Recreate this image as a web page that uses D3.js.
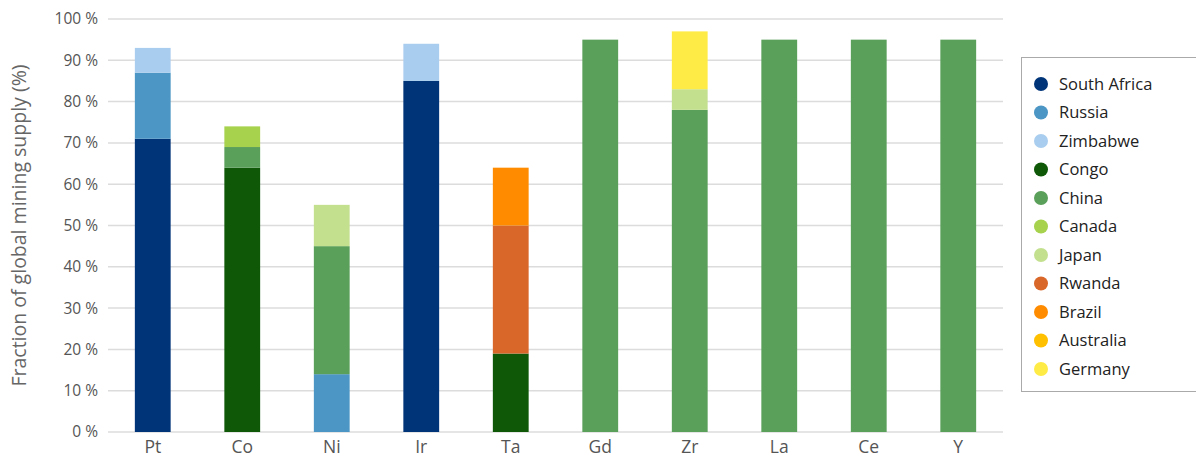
<!DOCTYPE html>
<html><head><meta charset="utf-8">
<script src="https://cdn.jsdelivr.net/npm/d3@7"></script>
<style>body{margin:0;background:#fff;}svg{display:block;font-family:"Open Sans","Noto Sans",sans-serif;}</style>
</head><body><svg id="c" width="1196" height="471"></svg>
<script>
const elements = ["Pt","Co","Ni","Ir","Ta","Gd","Zr","La","Ce","Y"];
const countries = ["South Africa","Russia","Zimbabwe","Congo","China","Canada","Japan","Rwanda","Brazil","Australia","Germany"];
const colors = ["#003479","#4b96c4","#a9cdee","#0e5808","#5a9f5a","#a6d24e","#c3e08f","#da672a","#ff8c00","#ffc000","#ffeb45"];
const southAfrica = [71,0,0,85,0,0,0,0,0,0];
const russia      = [16,0,14,0,0,0,0,0,0,0];
const zimbabwe    = [6,0,0,9,0,0,0,0,0,0];
const congo       = [0,64,0,0,19,0,0,0,0,0];
const china       = [0,5,31,0,0,95,78,95,95,95];
const canada      = [0,5,0,0,0,0,0,0,0,0];
const japan       = [0,0,10,0,0,0,5,0,0,0];
const rwanda      = [0,0,0,0,31,0,0,0,0,0];
const brazil      = [0,0,0,0,14,0,0,0,0,0];
const australia   = [0,0,0,0,0,0,0,0,0,0];
const germany     = [0,0,0,0,0,0,14,0,0,0];
const yTicks = [0,10,20,30,40,50,60,70,80,90,100];
const yTitle = "Fraction of global mining supply (%)";

const series = [southAfrica,russia,zimbabwe,congo,china,canada,japan,rwanda,brazil,australia,germany];
const rows = elements.map((e,i)=>{const o={el:e}; countries.forEach((c,j)=>o[c]=series[j][i]); return o;});
const stack = d3.stack().keys(countries)(rows);

const svg = d3.select("#c");
const m = {l:108,r:193,t:19,b:39};
const W = 1196, H = 471;
const x = d3.scaleBand().domain(elements).range([m.l, W-m.r]).paddingInner(0.6).paddingOuter(0.3);
const y = d3.scaleLinear().domain([0,100]).range([H-m.b, m.t]);

// grid
svg.append("g").selectAll("line").data(yTicks).join("line")
  .attr("x1",m.l).attr("x2",W-m.r).attr("y1",d=>y(d)).attr("y2",d=>y(d))
  .attr("stroke","#dcdcdc").attr("stroke-width",1.5);

// y labels
const yAxis = svg.append("g").attr("transform",`translate(${m.l-7},0)`)
  .call(d3.axisLeft(y).tickValues(yTicks).tickFormat(d=>d+" %").tickSize(0));
yAxis.select(".domain").remove();
yAxis.selectAll("text").attr("font-size",15.5).attr("fill","#555").attr("font-family","'Open Sans',sans-serif");

// x labels
const xAxis = svg.append("g").attr("transform",`translate(0,${H-m.b})`)
  .call(d3.axisBottom(x).tickSize(0).tickPadding(9));
xAxis.select(".domain").remove();
xAxis.selectAll("text").attr("font-size",17.5).attr("fill","#555").attr("font-family","'Open Sans',sans-serif");

// bars
svg.append("g").selectAll("g").data(stack).join("g").attr("fill",(d,i)=>colors[i])
  .selectAll("rect").data(d=>d.filter(p=>p[1]-p[0]>0)).join("rect")
  .attr("x",d=>x(d.data.el)).attr("width",x.bandwidth())
  .attr("y",d=>y(d[1])).attr("height",d=>y(d[0])-y(d[1]));

// y title
svg.append("text").attr("transform",`translate(26,${(m.t+H-m.b)/2}) rotate(-90)`)
  .attr("text-anchor","middle").attr("font-size",19.5).attr("fill","#666").text(yTitle);

// legend
const lg = svg.append("g");
lg.append("rect").attr("x",1021.5).attr("y",57.5).attr("width",190).attr("height",334)
  .attr("fill","#fff").attr("stroke","#aaa").attr("stroke-width",1);
const li = lg.selectAll("g.item").data(countries).join("g").attr("class","item")
  .attr("transform",(d,i)=>`translate(1041,${84+i*28.5})`);
li.append("circle").attr("r",7).attr("fill",(d,i)=>colors[i]);
li.append("text").attr("x",18).attr("dy","0.35em").attr("font-size",16.5).attr("fill","#222").text(d=>d);
</script></body></html>
